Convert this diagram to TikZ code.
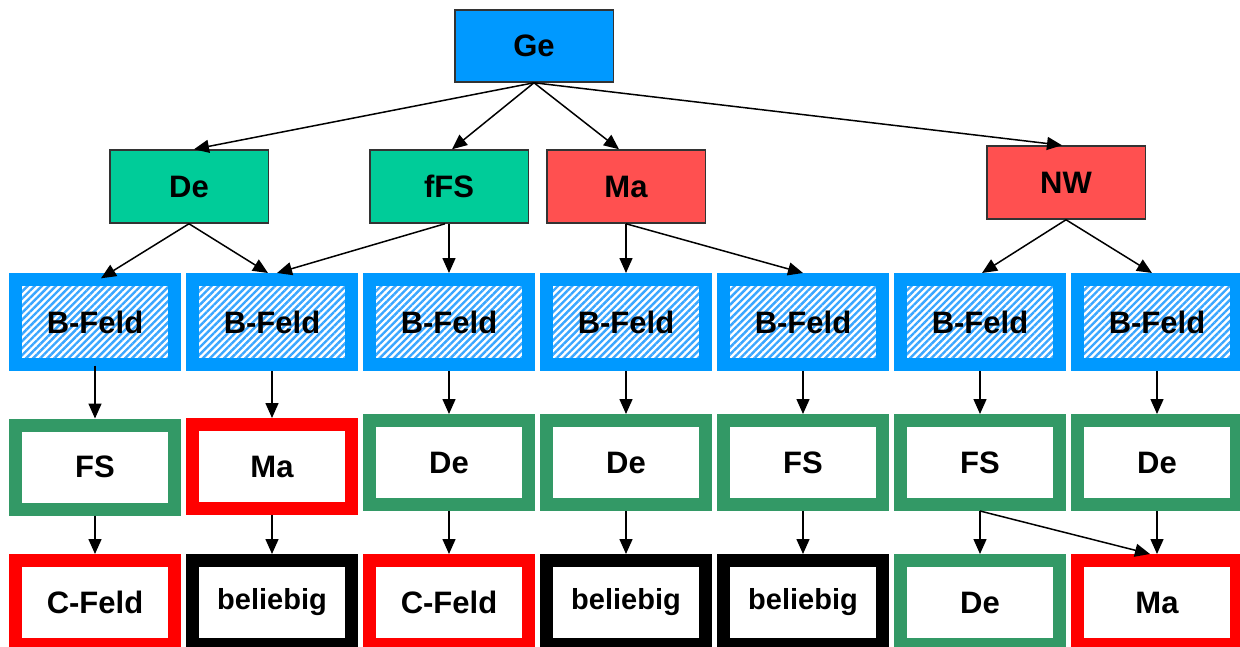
\documentclass[tikz,border=0pt]{standalone}
\usepackage{fontspec}
\setmainfont{Liberation Sans}
\usetikzlibrary{arrows.meta,patterns.meta}
\definecolor{geblue}{HTML}{0099FF}
\definecolor{lgreen}{HTML}{00CC99}
\definecolor{lred}{HTML}{FF5050}
\definecolor{hatchblue}{HTML}{3AA6FF}
\definecolor{bgreen}{HTML}{339966}
\definecolor{bred}{HTML}{FF0000}
\begin{document}
\begin{tikzpicture}[x=1pt,y=-1pt,
  txt/.style={font=\fontsize{31}{36}\selectfont\bfseries, text=black, inner sep=0pt},
  small/.style={font=\fontsize{29}{34}\selectfont\bfseries},
  topbox/.style={txt, draw=black!80, line width=1.5pt, minimum width=158.5pt, minimum height=72pt},
  midbox/.style={txt, draw=black!80, line width=1.5pt, minimum width=158.5pt, minimum height=73pt},
  bfbox/.style={txt, draw=geblue, line width=13pt, minimum width=159pt, minimum height=85pt,
    preaction={fill=white},
    pattern={Lines[angle=45,distance=5pt,line width=2.4pt]}, pattern color=hatchblue},
  framebox/.style={txt, draw=#1, fill=white, line width=13pt, minimum width=159pt, minimum height=84pt},
  arr/.style={line width=1.5pt, -{Triangle[length=15pt,width=13pt]}}
]
\useasboundingbox (0,0) rectangle (1240,646);
\clip (0,0) rectangle (1240,646);
\fill[white] (0,0) rectangle (1240,646);

% level 1
\node[topbox, fill=geblue] (Ge) at (534,46) {Ge};

% level 2
\node[midbox, fill=lgreen] (De) at (189,186.5) {De};
\node[midbox, fill=lgreen] (fFS) at (449,186.5) {fFS};
\node[midbox, fill=lred] (Ma) at (626,186.5) {Ma};
\node[midbox, fill=lred] (NW) at (1066,182.5) {NW};

% level 3
\node[bfbox] (B1) at (95,322) {B-Feld};
\node[bfbox] (B2) at (272,322) {B-Feld};
\node[bfbox] (B3) at (449,322) {B-Feld};
\node[bfbox] (B4) at (626,322) {B-Feld};
\node[bfbox] (B5) at (803,322) {B-Feld};
\node[bfbox] (B6) at (980,322) {B-Feld};
\node[bfbox] (B7) at (1157,322) {B-Feld};

% level 4
\node[framebox=bgreen] (F1) at (95,467) {FS};
\node[framebox=bred] (F2) at (272,466.5) {Ma};
\node[framebox=bgreen] (F3) at (449,462.5) {De};
\node[framebox=bgreen] (F4) at (626,462.5) {De};
\node[framebox=bgreen] (F5) at (803,462.5) {FS};
\node[framebox=bgreen] (F6) at (980,462.5) {FS};
\node[framebox=bgreen] (F7) at (1157,462.5) {De};

% level 5
\node[framebox=bred] (C1) at (95,602.5) {C-Feld};
\node[framebox=black, small] (C2) at (272,602.5) {beliebig};
\node[framebox=bred] (C3) at (449,602.5) {C-Feld};
\node[framebox=black, small] (C4) at (626,602.5) {beliebig};
\node[framebox=black, small] (C5) at (803,602.5) {beliebig};
\node[framebox=bgreen] (C6) at (980,602.5) {De};
\node[framebox=bred] (C7) at (1157,602.5) {Ma};

% connectors level 1 -> 2
\draw[arr] (Ge.south) -- ([xshift=5pt]De.north);
\draw[arr] (Ge.south) -- ([xshift=3pt]fFS.north);
\draw[arr] (Ge.south) -- ([xshift=-7pt]Ma.north);
\draw[arr] (Ge.south) -- ([xshift=-4pt]NW.north);

% level 2 -> 3
\draw[arr] (De.south) -- ([xshift=6pt]B1.north);
\draw[arr] (De.south) -- ([xshift=-4pt]B2.north);
\draw[arr] ([xshift=-4pt]fFS.south) -- ([xshift=5pt]B2.north);
\draw[arr] (fFS.south) -- (B3.north);
\draw[arr] (Ma.south) -- (B4.north);
\draw[arr] (Ma.south) -- (B5.north);
\draw[arr] (NW.south) -- ([xshift=2pt]B6.north);
\draw[arr] (NW.south) -- ([xshift=-5pt]B7.north);

% level 3 -> 4
\foreach \i in {1,...,7} {
  \draw[arr] (B\i.south) -- (F\i.north);
}

% level 4 -> 5
\foreach \i in {1,...,7} {
  \draw[arr] (F\i.south) -- (C\i.north);
}
\draw[arr] (F6.south) -- ([xshift=-7pt]C7.north);
\end{tikzpicture}
\end{document}
